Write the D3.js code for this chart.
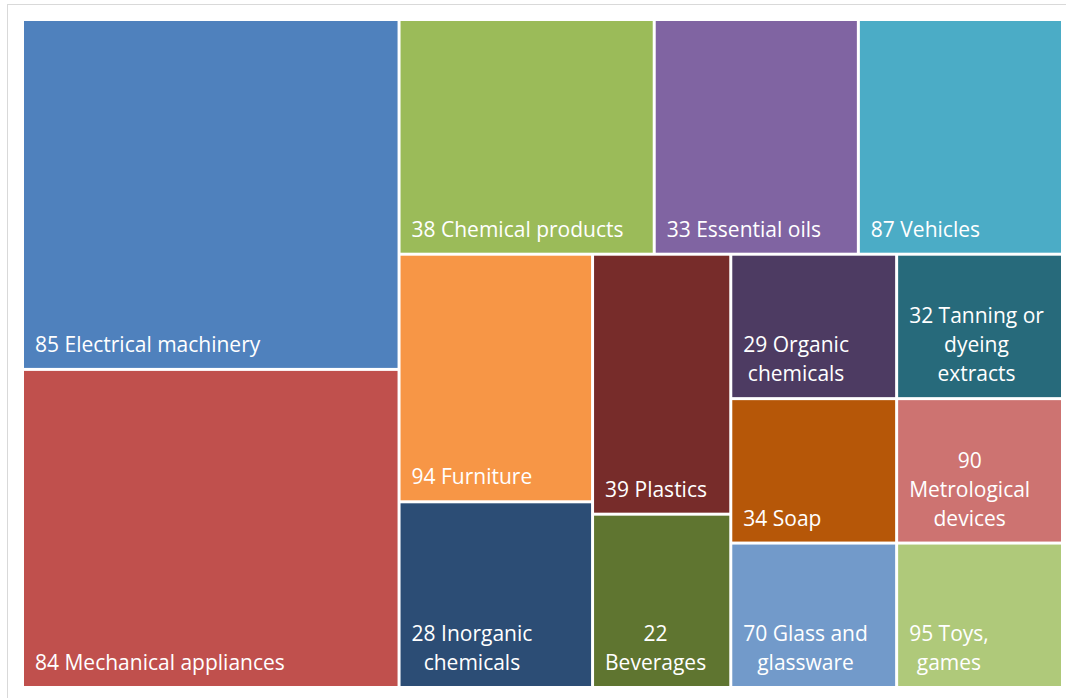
<!DOCTYPE html>
<html>
<head>
<meta charset="utf-8">
<script src="https://cdn.jsdelivr.net/npm/d3@7"></script>
<style>
  html, body { margin: 0; padding: 0; background: #fff; }
  svg { display: block; }
</style>
</head>
<body>
<svg id="chart" width="1066" height="698"></svg>
<script>
// HS chapters shown in the treemap
const codes  = ["85", "84", "38", "33", "87", "94", "28", "39", "22", "29", "32", "34", "90", "70", "95"];
const names  = ["Electrical machinery", "Mechanical appliances", "Chemical products", "Essential oils",
                "Vehicles", "Furniture", "Inorganic chemicals", "Plastics", "Beverages",
                "Organic chemicals", "Tanning or dyeing extracts", "Soap", "Metrological devices",
                "Glass and glassware", "Toys, games"];
const values = [5.5, 5, 2.5, 2, 2, 2, 1.5, 1.5, 1, 1, 1, 1, 1, 1, 1];
const colors = ["#4F81BD", "#C0504D", "#9BBB59", "#8064A2", "#4BACC6", "#F79646", "#2C4D75",
                "#772C2A", "#5F7530", "#4D3B62", "#276A7B", "#B65708", "#CD7371", "#729ACA", "#AFC97A"];

// Grouping of the tiles: "x" splits a block left-to-right, "y" top-to-bottom
const arrangement = { dir: "x", kids: [
  { dir: "y", kids: ["85", "84"] },
  { dir: "y", kids: [
    { dir: "x", kids: ["38", "33", "87"] },
    { dir: "x", kids: [
      { dir: "y", kids: ["94", "28"] },
      { dir: "y", kids: ["39", "22"] },
      { dir: "y", kids: [
        { dir: "x", kids: ["29", "32"] },
        { dir: "x", kids: ["34", "90"] },
        { dir: "x", kids: ["70", "95"] }
      ]}
    ]}
  ]}
]};

const byCode = new Map(codes.map((c, i) => [c, { code: c, name: names[i], value: values[i], color: colors[i] }]));

function build(spec) {
  if (typeof spec === "string") return byCode.get(spec);
  return { dir: spec.dir, children: spec.kids.map(build) };
}

const svg = d3.select("#chart");

// Outer chart frame
svg.append("rect")
  .attr("x", 7.5).attr("y", 4.5)
  .attr("width", 1080).attr("height", 710)
  .attr("fill", "none").attr("stroke", "#d9d9d9").attr("stroke-width", 1);

const plot = { x: 24, y: 21, w: 1037, h: 665 };

const root = d3.hierarchy(build(arrangement))
  .sum(d => d.value || 0);

d3.treemap()
  .size([plot.w, plot.h])
  .paddingInner(3)
  .round(false)
  .tile((node, x0, y0, x1, y1) =>
    (node.data.dir === "x" ? d3.treemapDice : d3.treemapSlice)(node, x0, y0, x1, y1))(root);

const g = svg.append("g").attr("transform", `translate(${plot.x},${plot.y})`);

const leaves = g.selectAll("g.cell")
  .data(root.leaves())
  .join("g")
  .attr("class", "cell");

leaves.append("rect")
  .attr("x", d => d.x0)
  .attr("y", d => d.y0)
  .attr("width", d => d.x1 - d.x0)
  .attr("height", d => d.y1 - d.y0)
  .attr("fill", d => d.data.color);

const fontFamily = "'Open Sans', Lato, sans-serif";
const fontSize = 21;
const lineH = 29;
const pad = 11;
const wrapInset = 26;
const bottomGap = 16;

const measurer = svg.append("text")
  .attr("font-family", fontFamily)
  .attr("font-size", fontSize)
  .attr("visibility", "hidden");
function textWidth(s) {
  measurer.text(s);
  return measurer.node().getComputedTextLength();
}

function wrap(label, maxW) {
  const words = label.split(" ");
  const lines = [];
  let cur = words[0];
  for (let i = 1; i < words.length; i++) {
    const trial = cur + " " + words[i];
    if (textWidth(trial) <= maxW) cur = trial;
    else { lines.push(cur); cur = words[i]; }
  }
  lines.push(cur);
  return lines;
}

leaves.each(function(d) {
  const label = d.data.code + " " + d.data.name;
  const maxW = (d.x1 - d.x0) - wrapInset;
  const lines = wrap(label, maxW);
  const blockW = d3.max(lines, textWidth);
  const cx = d.x0 + pad + blockW / 2;
  const lastBase = d.y1 - bottomGap;
  const t = d3.select(this).append("text")
    .attr("font-family", fontFamily)
    .attr("font-size", fontSize)
    .attr("fill", "#ffffff")
    .attr("text-anchor", "middle");
  lines.forEach((ln, i) => {
    t.append("tspan")
      .attr("x", cx)
      .attr("y", lastBase - (lines.length - 1 - i) * lineH)
      .text(ln);
  });
});

measurer.remove();
</script>
</body>
</html>
